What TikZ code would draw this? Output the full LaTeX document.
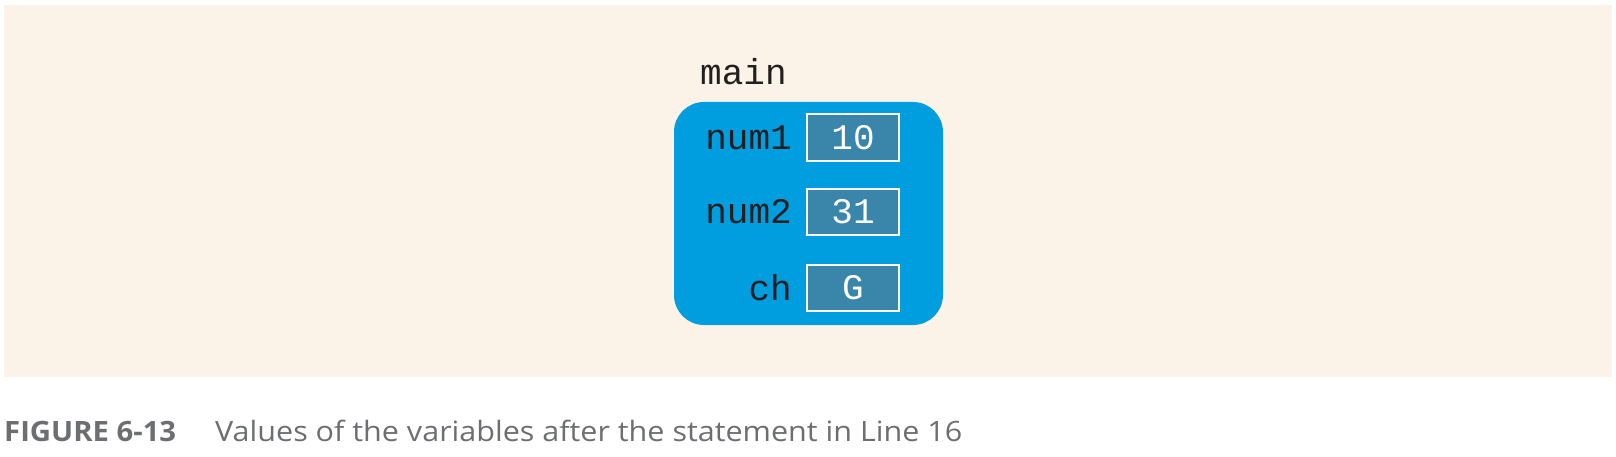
\documentclass[tikz,border=0pt]{standalone}
\usepackage{fontspec}
\setmainfont{Open Sans}
\newfontfamily\codefont{Liberation Mono}
\newfontfamily\capfont{Open Sans}
\usetikzlibrary{positioning}
\definecolor{panelbg}{HTML}{FCF3E8}
\definecolor{framebl}{HTML}{009DDF}
\definecolor{cellbl}{HTML}{3A86AB}
\definecolor{capgray}{HTML}{6D6E71}
\definecolor{labelink}{HTML}{231F20}

\begin{document}
\begin{tikzpicture}[x=1pt,y=1pt,
  valbox/.style={draw=white, line width=2pt, fill=cellbl, minimum width=92pt,
    minimum height=46pt, inner sep=0pt, text=white,
    font=\codefont\fontsize{36}{36}\selectfont},
  varlabel/.style={inner sep=0pt, text=labelink,
    font=\codefont\fontsize{36}{36}\selectfont},
  captext/.style={anchor=base west, inner sep=0pt, text=capgray,
    font=\capfont\fontsize{28}{28}\selectfont}]
\useasboundingbox (0,0) rectangle (1616,456);

% panel and the frame of main
\fill[panelbg] (4,79) rectangle (1612,451);
\fill[framebl, rounded corners=30pt] (674,131) rectangle (943,354);
\node[varlabel, anchor=base west] (main) at (700,371) {main};

\foreach \nm/\val/\y in {num1/10/318.5, num2/31/244.5, ch/G/168.5} {
    \node[valbox] (v\nm) at (853,\y) {\val};
    \node[varlabel, left=14pt of v\nm] (l\nm) {\nm};
}

% caption
\node[captext] (fignum) at (4,15) {\resizebox{172pt}{\height}{\bfseries FIGURE 6-13}};
\node[captext] (figtext) at (215,15) {\resizebox{747pt}{\height}{Values of the variables after the statement in Line 16}};
\end{tikzpicture}
\end{document}
